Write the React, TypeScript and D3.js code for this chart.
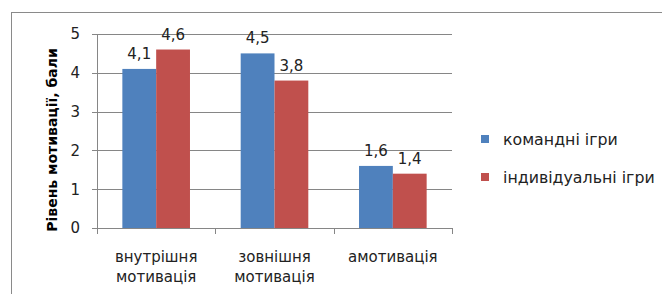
import React from 'react';
import * as d3 from 'd3';

const categories = ['внутрішня мотивація', 'зовнішня мотивація', 'амотивація'];
const seriesNames = ['командні ігри', 'індивідуальні ігри'];
const teamValues = [4.1, 4.5, 1.6];
const individualValues = [4.6, 3.8, 1.4];
const yTicks = [0, 1, 2, 3, 4, 5];

const W = 663;
const H = 294;
const COLORS = ['#4F81BD', '#C0504D'];
const FONT = '"DejaVu Sans", sans-serif';

const plot = { left: 97, right: 452, top: 34, bottom: 228 };

const App: React.FC = () => {
  const series = [teamValues, individualValues];

  const x = d3.scaleBand<string>()
    .domain(categories)
    .range([plot.left, plot.right])
    .paddingInner(0)
    .paddingOuter(0);

  const bw = x.bandwidth() / 3.5; // ширина стовпчика, зазор 150%

  const y = d3.scaleLinear()
    .domain([0, 5])
    .range([plot.bottom, plot.top]);

  const fmt = (v: number) => v.toFixed(1).replace('.', ',');

  return (
    <svg width={W} height={H} style={{ position: 'absolute', left: 0, top: 0 }}>
      <rect x={0} y={0} width={W} height={H} fill="#fff" />
      {/* рамка */}
      <line x1={11.5} x2={11.5} y1={12} y2={H} stroke="#8a8a8a" />
      <line x1={11} x2={662} y1={12.5} y2={12.5} stroke="#8a8a8a" />

      {/* сітка */}
      {yTicks.map(t => (
        <g key={t}>
          <line x1={plot.left - 5} x2={plot.right} y1={Math.round(y(t)) + 0.5} y2={Math.round(y(t)) + 0.5}
            stroke="#868686" />
          <text x={plot.left - 17} y={y(t)} dy="0.36em" textAnchor="end"
            fontFamily={FONT} fontSize={15} fill="#222">{t}</text>
        </g>
      ))}
      <line x1={plot.left + 0.5} x2={plot.left + 0.5} y1={plot.top} y2={plot.bottom + 6} stroke="#868686" />
      {categories.map((c, i) => (
        <line key={'t' + i} x1={Math.round(x(c)! + x.bandwidth()) + 0.5} x2={Math.round(x(c)! + x.bandwidth()) + 0.5}
          y1={plot.bottom} y2={plot.bottom + 6} stroke="#868686" />
      ))}

      {/* стовпчики */}
      {categories.map((c, i) => {
        const cx = x(c)! + x.bandwidth() / 2;
        return series.map((s, j) => {
          const bx = cx - bw + j * bw;
          return (
            <g key={c + j}>
              <rect x={bx} y={y(s[i])} width={bw} height={plot.bottom - y(s[i])} fill={COLORS[j]} />
              <text x={bx + bw / 2} y={y(s[i]) - 10} textAnchor="middle"
                fontFamily={FONT} fontSize={15} fill="#222">{fmt(s[i])}</text>
            </g>
          );
        });
      })}

      {/* підписи категорій */}
      {categories.map(c => {
        const words = c.split(' ');
        const cx = x(c)! + x.bandwidth() / 2;
        return (
          <text key={c} textAnchor="middle" fontFamily={FONT} fontSize={15} fill="#222">
            {words.map((w, k) => (
              <tspan key={k} x={cx} y={262 + k * 20}>{w}</tspan>
            ))}
          </text>
        );
      })}

      {/* назва осі */}
      <text transform={`translate(57, 140) rotate(-90)`}
        textAnchor="middle" fontFamily={FONT} fontSize={14} fontWeight="bold" fill="#000">
        Рівень мотивації,  бали
      </text>

      {/* легенда */}
      {seriesNames.map((n, j) => (
        <g key={n} transform={`translate(481, ${139 + j * 38})`}>
          <rect x={0} y={-4} width={8} height={8} fill={COLORS[j]} />
          <text x={22} y={0} dy="0.36em" fontFamily={FONT} fontSize={15.8} fill="#222">{n}</text>
        </g>
      ))}
    </svg>
  );
};

export default App;
